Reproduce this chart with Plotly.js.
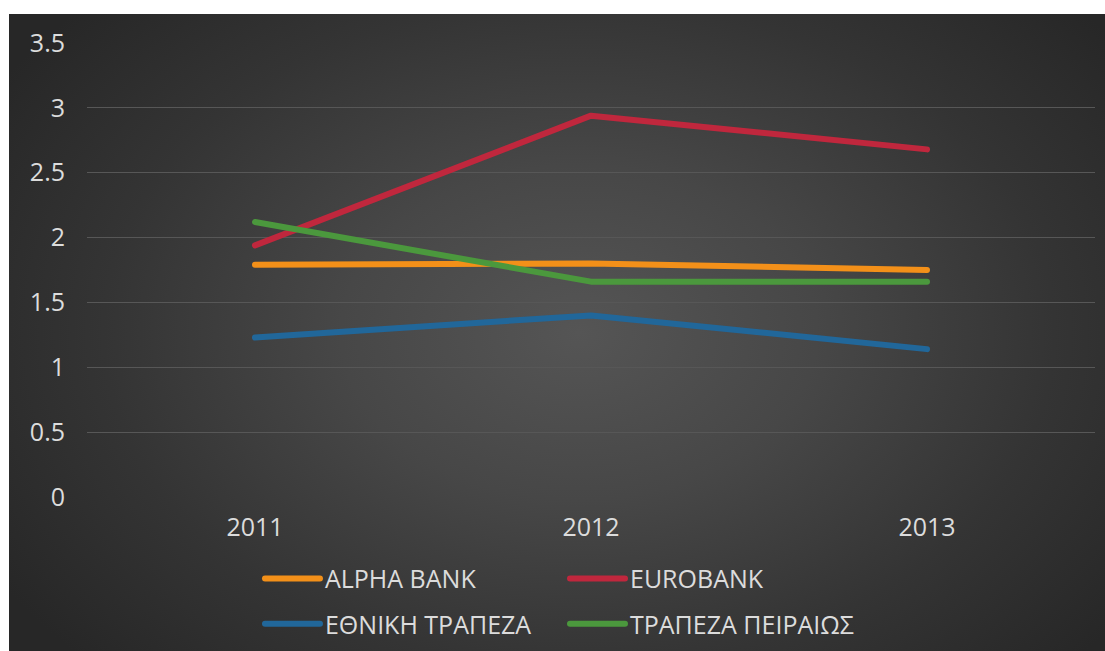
<!DOCTYPE html>
<html>
<head>
<meta charset="utf-8">
<script src="https://cdn.plot.ly/plotly-3.0.1.min.js"></script>
<style>
  html, body { margin: 0; padding: 0; background: #ffffff; width: 1105px; height: 651px; overflow: hidden; }
  #bg { position: absolute; left: 9px; top: 14px; width: 1096px; height: 637px;
        background: radial-gradient(ellipse 62% 75% at 52% 50%, #555555 0%, #474747 35%, #343434 70%, #272727 100%); }
  #chart { position: absolute; left: 0; top: 0; width: 1105px; height: 651px; }
  .js-line { stroke-linecap: round; stroke-linejoin: round; }
</style>
</head>
<body>
<div id="bg"></div>
<div id="chart"></div>
<script>
const years = ['2011', '2012', '2013'];
const seriesNames = ['ALPHA BANK', 'EUROBANK', 'ΕΘΝΙΚΗ ΤΡΑΠΕΖΑ', 'ΤΡΑΠΕΖΑ ΠΕΙΡΑΙΩΣ'];
const alphaBank = [1.79, 1.80, 1.75];
const eurobank = [1.94, 2.94, 2.68];
const ethnikiTrapeza = [1.23, 1.40, 1.14];
const trapezaPeiraios = [2.12, 1.66, 1.66];
const yTicks = [0, 0.5, 1, 1.5, 2, 2.5, 3, 3.5];
const yTickText = ['0', '0.5', '1', '1.5', '2', '2.5', '3', '3.5'];

const colors = ['#F39019', '#C0273D', '#21679A', '#4B983D'];
const values = [alphaBank, eurobank, ethnikiTrapeza, trapezaPeiraios];
const legendIds = ['legend', 'legend2', 'legend3', 'legend4'];

const traces = values.map((v, i) => ({
  type: 'scatter',
  mode: 'lines',
  x: years,
  y: v,
  name: seriesNames[i],
  line: { color: colors[i], width: 6 },
  legend: legendIds[i],
  hoverinfo: 'x+y+name'
}));

const font = { family: '"Open Sans", "Noto Sans", sans-serif', size: 25, color: '#DCDCDC' };
const legendBase = {
  orientation: 'h', xanchor: 'left', yanchor: 'middle',
  bgcolor: 'rgba(0,0,0,0)', borderwidth: 0, itemwidth: 55,
  font: font, itemclick: false, itemdoubleclick: false
};

const layout = {
  width: 1105, height: 651,
  paper_bgcolor: 'rgba(0,0,0,0)',
  plot_bgcolor: 'rgba(0,0,0,0)',
  margin: { l: 87, r: 10, t: 43, b: 154, autoexpand: false },
  font: font,
  showlegend: true,
  xaxis: {
    type: 'category',
    range: [-0.5, 2.5],
    showgrid: false, zeroline: false, showline: false,
    ticks: '', ticklabelstandoff: 13,
    tickfont: font, fixedrange: true
  },
  yaxis: {
    range: [0, 3.5],
    tickvals: yTicks, ticktext: yTickText,
    showgrid: true, gridcolor: '#575757', gridwidth: 1,
    zeroline: false, showline: false, ticks: '',
    ticklabelstandoff: 21,
    tickfont: font, fixedrange: true
  },
  legend: Object.assign({}, legendBase, { x: 0.1716, y: -0.18 }),
  legend2: Object.assign({}, legendBase, { x: 0.4742, y: -0.18 }),
  legend3: Object.assign({}, legendBase, { x: 0.1716, y: -0.28 }),
  legend4: Object.assign({}, legendBase, { x: 0.4742, y: -0.28 })
};

Plotly.newPlot('chart', traces, layout, { displayModeBar: false });
</script>
</body>
</html>
